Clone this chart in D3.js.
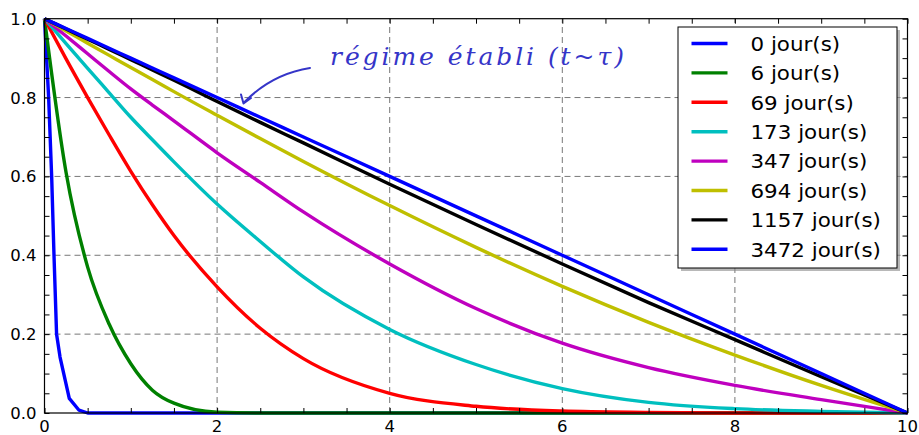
<!DOCTYPE html>
<html>
<head>
<meta charset="utf-8">
<script src="https://cdn.jsdelivr.net/npm/d3@7"></script>
<style>
  body { margin: 0; background: #fff; }
  svg { display: block; font-family: "DejaVu Sans", sans-serif; }
</style>
</head>
<body>
<div id="viz"></div>
<script>
// values
var xGrid = [0, 0.25, 0.5, 0.75, 1, 1.25, 1.5, 2, 2.5, 3, 4, 5, 6, 7, 8, 9, 10];

var zeroX = [0, 0.048, 0.083, 0.11, 0.14, 0.18, 0.287, 0.40, 0.5, 10];
var zeroY = [1, 0.8, 0.6, 0.4, 0.2, 0.142, 0.037, 0.007, 0, 0];

var y6    = [1, 0.61, 0.37, 0.225, 0.125, 0.058, 0.025, 0.002, 0, 0, 0, 0, 0, 0, 0, 0, 0];
var y69   = [1, 0.898, 0.8, 0.705, 0.613, 0.528, 0.45, 0.32, 0.215, 0.138, 0.05, 0.017, 0.005, 0.0015, 0, 0, 0];
var y173  = [1, 0.937, 0.874, 0.812, 0.75, 0.693, 0.637, 0.53, 0.435, 0.345, 0.212, 0.123, 0.062, 0.027, 0.011, 0.004, 0];
var y347  = [1, 0.956, 0.911, 0.866, 0.822, 0.781, 0.741, 0.66, 0.585, 0.51, 0.378, 0.265, 0.177, 0.115, 0.07, 0.034, 0];
var y694  = [1, 0.969, 0.938, 0.907, 0.876, 0.846, 0.815, 0.755, 0.696, 0.638, 0.526, 0.42, 0.321, 0.23, 0.147, 0.07, 0];
var y1157 = [1, 0.974, 0.948, 0.922, 0.896, 0.87, 0.844, 0.79, 0.737, 0.685, 0.58, 0.478, 0.378, 0.28, 0.186, 0.092, 0];
var y3472 = [1, 0.975, 0.95, 0.925, 0.9, 0.875, 0.85, 0.8, 0.75, 0.7, 0.6, 0.5, 0.4, 0.3, 0.2, 0.1, 0];

var labels = ["0 jour(s)", "6 jour(s)", "69 jour(s)", "173 jour(s)", "347 jour(s)", "694 jour(s)", "1157 jour(s)", "3472 jour(s)"];
var colors = ["#0000ff", "#008000", "#ff0000", "#00bfbf", "#bf00bf", "#bfbf00", "#000000", "#0000ff"];

var xTicks = [0, 2, 4, 6, 8, 10];
var yTicks = [0, 0.2, 0.4, 0.6, 0.8, 1.0];

var W = 919, H = 435;
var x = d3.scaleLinear().domain([0, 10]).range([44.5, 907.5]),
    y = d3.scaleLinear().domain([0, 1]).range([413, 18.7]);

var svg = d3.select("#viz").append("svg")
    .attr("width", W)
    .attr("height", H);

// grid
svg.append("g").selectAll("line").data(xTicks.slice(1, -1)).enter().append("line")
    .attr("x1", d => x(d)).attr("x2", d => x(d))
    .attr("y1", y(0)).attr("y2", y(1))
    .attr("stroke", "#777").attr("stroke-width", 1).attr("stroke-dasharray", "6,4");
svg.append("g").selectAll("line").data(yTicks.slice(1, -1)).enter().append("line")
    .attr("y1", d => y(d)).attr("y2", d => y(d))
    .attr("x1", x(0)).attr("x2", x(10))
    .attr("stroke", "#777").attr("stroke-width", 1).attr("stroke-dasharray", "6,4");

// series
var series = [];
series.push(zeroX.map((v, i) => [v, zeroY[i]]));
[y6, y69, y173, y347, y694, y1157, y3472].forEach(function(ys) {
  series.push(xGrid.map((v, i) => [v, ys[i]]));
});

var lineSmooth = d3.line().x(d => x(d[0])).y(d => y(d[1])).curve(d3.curveMonotoneX);
var lineStraight = d3.line().x(d => x(d[0])).y(d => y(d[1]));

svg.append("g").selectAll("path").data(series).enter().append("path")
    .attr("d", (d, i) => i == 0 ? lineStraight(d) : lineSmooth(d))
    .attr("fill", "none")
    .attr("stroke", (d, i) => colors[i])
    .attr("stroke-width", 3.4)
    .attr("stroke-linejoin", "round");

// axes: ticks inward on all four sides
var xMinor = d3.range(0, 10.01, 0.5), yMinor = d3.range(0, 1.001, 0.05);
var axB = d3.axisBottom(x).tickValues(xMinor).tickSize(-5).tickFormat("");
var axT = d3.axisTop(x).tickValues(xMinor).tickSize(-5).tickFormat("");
var axL = d3.axisLeft(y).tickValues(yMinor).tickSize(-5).tickFormat("");
var axR = d3.axisRight(y).tickValues(yMinor).tickSize(-5).tickFormat("");
svg.append("g").attr("transform", "translate(0," + y(0) + ")").call(axB);
svg.append("g").attr("transform", "translate(0," + y(1) + ")").call(axT);
svg.append("g").attr("transform", "translate(" + x(0) + ",0)").call(axL);
svg.append("g").attr("transform", "translate(" + x(10) + ",0)").call(axR);
svg.selectAll(".domain").remove();
svg.selectAll(".tick line").attr("stroke", "#000");

svg.append("rect")
    .attr("x", x(0)).attr("y", y(1))
    .attr("width", x(10) - x(0)).attr("height", y(0) - y(1))
    .attr("fill", "none").attr("stroke", "#000").attr("stroke-width", 1.2);

// tick labels
svg.append("g").selectAll("text").data(xTicks).enter().append("text")
    .attr("x", d => x(d)).attr("y", 432)
    .attr("text-anchor", "middle")
    .style("font-size", "16.5px")
    .text(d => d3.format("d")(d));
svg.append("g").selectAll("text").data(yTicks).enter().append("text")
    .attr("x", 36.5).attr("y", d => y(d) + 6)
    .attr("text-anchor", "end")
    .style("font-size", "16.5px")
    .text(d => d3.format(".1f")(d));

// legend
var lg = svg.append("g").attr("transform", "translate(678,27)");
lg.append("rect").attr("x", 3).attr("y", 3).attr("width", 219).attr("height", 241)
    .attr("fill", "#888").attr("opacity", 0.6);
lg.append("rect").attr("width", 219).attr("height", 241)
    .attr("fill", "#fff").attr("stroke", "#000").attr("stroke-width", 1);
var rows = lg.selectAll("g.row").data(labels).enter().append("g")
    .attr("class", "row")
    .attr("transform", (d, i) => "translate(0," + (16.5 + i * 29.4) + ")");
rows.append("line")
    .attr("x1", 13.5).attr("x2", 49.5)
    .attr("stroke", (d, i) => colors[i]).attr("stroke-width", 3.4);
rows.append("text")
    .attr("transform", "translate(72.5,7.2) scale(1.07,1)")
    .style("font-size", "20px")
    .text(d => d);

// handwritten note
svg.append("text")
    .attr("x", 330).attr("y", 65)
    .attr("textLength", 294).attr("lengthAdjust", "spacing")
    .style("font-family", "'DejaVu Serif', serif")
    .style("font-style", "italic")
    .style("font-size", "25px")
    .attr("fill", "#3535c8")
    .text("régime établi (t~τ)");
svg.append("path")
    .attr("d", "M310,68 Q272,74 244.5,102 M241,94.5 L243.5,103.5 L251,98")
    .attr("fill", "none").attr("stroke", "#3535c8").attr("stroke-width", 2)
    .attr("stroke-linecap", "round").attr("stroke-linejoin", "round");
</script>
</body>
</html>
